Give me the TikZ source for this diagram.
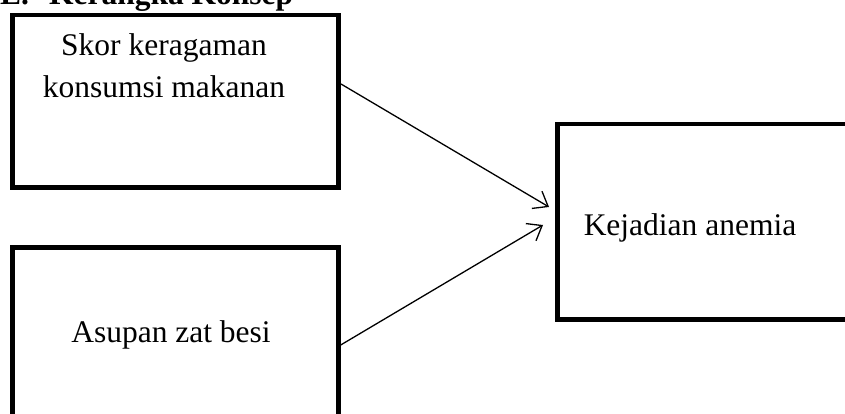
\documentclass[tikz,border=0pt]{standalone}
\usepackage{fontspec}
\setmainfont{Liberation Serif}
\usetikzlibrary{arrows.meta}
\begin{document}
\begin{tikzpicture}[x=1pt,y=-1pt,
  boxstyle/.style={draw=black,line width=4.5pt,inner sep=0pt,anchor=north west},
  txt/.style={font=\fontsize{31.5}{42}\selectfont,inner sep=0pt,anchor=base,align=center},
  head/.style={font=\fontsize{31.5}{36}\selectfont\bfseries,inner sep=0pt,anchor=base west},
  link/.style={line width=1.3pt,-{Straight Barb[length=13pt,width=20pt,line width=1.3pt]}}]
\useasboundingbox (0,0) rectangle (845,414);
\clip (0,0) rectangle (845,414);
\fill[white] (0,0) rectangle (845,414);
\node[head] (h) at (0,5) {E.\hspace{20pt}Kerangka Konsep};
\node[boxstyle,minimum width=326pt,minimum height=172pt] (b1) at (10,13) {};
\node[boxstyle,minimum width=326pt,minimum height=200pt] (b2) at (10,245) {};
\node[boxstyle,minimum width=320pt,minimum height=195pt] (b3) at (555,122) {};
\node[txt] (t1) at (164,98) {Skor keragaman\\konsumsi makanan};
\node[txt] (t2) at (171,342) {Asupan zat besi};
\node[txt] (t3) at (690,235) {Kejadian anemia};
\coordinate (s1) at (341,84);
\coordinate (e1) at (549,207);
\coordinate (s2) at (339,346);
\coordinate (e2) at (543,225);
\draw[link] (s1) -- (e1);
\draw[link] (s2) -- (e2);
\end{tikzpicture}
\end{document}
